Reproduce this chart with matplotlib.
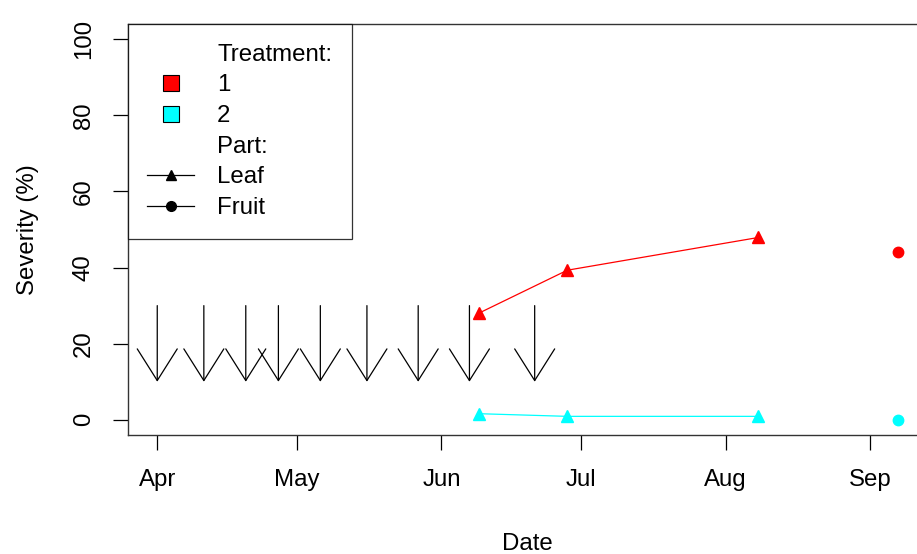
import numpy as np
import matplotlib
matplotlib.use("Agg")
import matplotlib.pyplot as plt
from matplotlib.lines import Line2D

plt.rcParams["font.family"] = ["Liberation Sans", "DejaVu Sans"]

# sampling dates and severity (%) per treatment
leaf_dates = np.array(["2019-06-09", "2019-06-28", "2019-08-08"], dtype="datetime64[D]")
fruit_dates = np.array(["2019-09-07"], dtype="datetime64[D]")
leaf_t1 = [28.0, 39.3, 47.9]
leaf_t2 = [1.6, 0.9, 0.9]
fruit_t1 = [44.2]
fruit_t2 = [0.0]

# spray application dates (arrows from 30 down to 10)
spray_dates = np.array(["2019-04-01", "2019-04-11", "2019-04-20", "2019-04-27",
                        "2019-05-06", "2019-05-16", "2019-05-27", "2019-06-07",
                        "2019-06-21"], dtype="datetime64[D]")
arrow_top = 30
arrow_tip = 10

month_ticks = np.array(["2019-04-01", "2019-05-01", "2019-06-01", "2019-07-01",
                        "2019-08-01", "2019-09-01"], dtype="datetime64[D]")
month_labels = ["Apr", "May", "Jun", "Jul", "Aug", "Sep"]
y_ticks = [0, 20, 40, 60, 80, 100]

col1 = "#FF0000"
col2 = "#00FFFF"
fs = 17.3

fig = plt.figure(figsize=(9.17, 5.54), dpi=100)
ax = fig.add_axes([0.1393, 0.2148, 0.8723, 0.7419])

ax.plot(leaf_dates, leaf_t1, color=col1, marker="^", ms=8, lw=0.9)
ax.plot(leaf_dates, leaf_t2, color=col2, marker="^", ms=8, lw=0.9)
ax.plot(fruit_dates, fruit_t1, color=col1, marker="o", ms=7.5, linestyle="none")
ax.plot(fruit_dates, fruit_t2, color=col2, marker="o", ms=7.5, linestyle="none")

for d in spray_dates:
    ax.annotate("", xy=(d, arrow_tip), xytext=(d, arrow_top),
                arrowprops=dict(arrowstyle="->,head_length=22.8,head_width=14.4",
                                mutation_scale=1, color="black", lw=0.9,
                                shrinkA=0, shrinkB=0))

# R style limits: 4% padding
all_dates = np.concatenate([spray_dates, leaf_dates, fruit_dates]).astype("datetime64[h]")
span = all_dates.max() - all_dates.min()
pad = (span * 4) // 100
ax.set_xlim(all_dates.min() - pad, all_dates.max() + pad)
ax.set_ylim(-4, 104)

ax.set_xticks(month_ticks)
ax.set_xticklabels(month_labels)
ax.set_yticks(y_ticks)
ax.set_yticklabels([str(v) for v in y_ticks], rotation=90, va="center")
ax.tick_params(axis="both", direction="out", length=10.8, width=0.9, labelsize=fs,
               colors="black")
ax.tick_params(axis="x", pad=14)
ax.tick_params(axis="y", pad=13)
for s in ax.spines.values():
    s.set_linewidth(1.0)
    s.set_color("#333333")

ax.set_xlabel("Date", fontsize=fs, labelpad=30)
ax.set_ylabel("Severity (%)", fontsize=fs, labelpad=24)

blank = Line2D([], [], linestyle="none")
handles = [
    blank,
    Line2D([], [], linestyle="none", marker="s", ms=12, markerfacecolor=col1,
           markeredgecolor="black", markeredgewidth=0.8),
    Line2D([], [], linestyle="none", marker="s", ms=12, markerfacecolor=col2,
           markeredgecolor="black", markeredgewidth=0.8),
    blank,
    Line2D([], [], color="black", marker="^", ms=7, lw=0.9),
    Line2D([], [], color="black", marker="o", ms=7, lw=0.9),
]
labels = ["Treatment:", "1", "2", "Part:", "Leaf", "Fruit"]
leg = ax.legend(handles, labels, loc="upper left", bbox_to_anchor=(0, 1),
                borderaxespad=0, fontsize=fs, frameon=True, fancybox=False,
                handlelength=1.95, handletextpad=0.95, labelspacing=0.36,
                borderpad=0.82)
leg.get_frame().set_edgecolor("black")
leg.get_frame().set_linewidth(0.9)

fig.savefig("out.png", dpi=100)
